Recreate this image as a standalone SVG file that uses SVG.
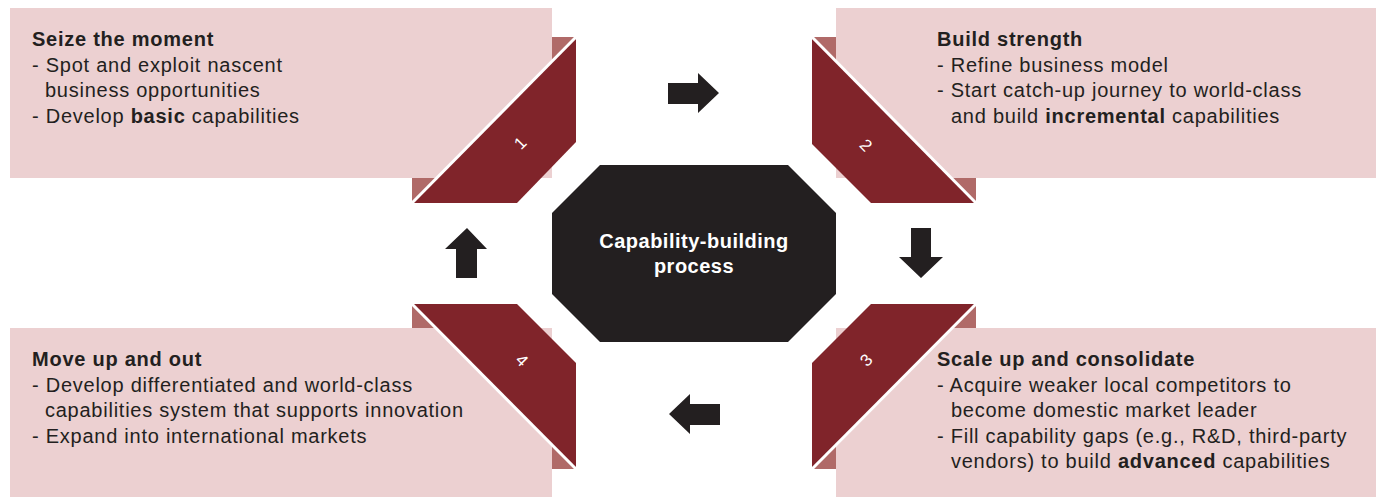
<svg xmlns="http://www.w3.org/2000/svg" width="1379" height="497" viewBox="0 0 1379 497">
<style>
.pink{fill:#ecd0d1}
.light{fill:#b06a68}
.dark{fill:#80242a}
.sep{stroke:#ffffff;stroke-width:3;fill:none}
.t{font-family:"Liberation Sans",Arial,sans-serif;font-size:20px;fill:#231f20;letter-spacing:0.75px}
.b{font-weight:bold}
.num{font-family:"Liberation Sans",Arial,sans-serif;font-size:17px;fill:#ffffff;text-anchor:middle}
.arrow{fill:#231f20}
</style>
<rect width="1379" height="497" fill="#ffffff"/>

<g id="node1">
<polygon class="light" points="412,37 576,37 412,203"/>
<rect class="pink" x="10" y="8" width="542" height="170"/>
<polygon class="dark" points="576,37 576,142 517,203 412,203"/>
<line class="sep" x1="411" y1="204" x2="577" y2="36"/>
<text class="num" transform="translate(520,143) rotate(-45)" y="6">1</text>
<text class="t b" x="32" y="46">Seize the moment</text>
<text class="t" x="32" y="72">- Spot and exploit nascent</text>
<text class="t" x="45" y="97">business opportunities</text>
<text class="t" x="32" y="123">- Develop <tspan class="b">basic</tspan> capabilities</text>
</g>

<g id="node2">
<polygon class="light" points="812,37 976,37 976,203"/>
<rect class="pink" x="836" y="8" width="540" height="170"/>
<polygon class="dark" points="812,37 976,203 871,203 812,144"/>
<line class="sep" x1="811" y1="36" x2="977" y2="204"/>
<text class="num" transform="translate(866,145) rotate(45)" y="6">2</text>
<text class="t b" x="937" y="46">Build strength</text>
<text class="t" x="937" y="72">- Refine business model</text>
<text class="t" x="937" y="97">- Start catch-up journey to world-class</text>
<text class="t" x="951" y="123">and build <tspan class="b">incremental</tspan> capabilities</text>
</g>

<g id="node3">
<polygon class="light" points="976,304 976,469 812,469"/>
<rect class="pink" x="836" y="328" width="540" height="169"/>
<polygon class="dark" points="871,304 976,304 812,469 812,363"/>
<line class="sep" x1="977" y1="303" x2="811" y2="470"/>
<text class="num" transform="translate(866,360) rotate(-45)" y="6">3</text>
<text class="t b" x="937" y="366">Scale up and consolidate</text>
<text class="t" x="937" y="392">- Acquire weaker local competitors to</text>
<text class="t" x="951" y="417">become domestic market leader</text>
<text class="t" x="937" y="443">- Fill capability gaps (e.g., R&amp;D, third-party</text>
<text class="t" x="951" y="468">vendors) to build <tspan class="b">advanced</tspan> capabilities</text>
</g>

<g id="node4">
<polygon class="light" points="412,304 412,469 576,469"/>
<rect class="pink" x="10" y="328" width="542" height="169"/>
<polygon class="dark" points="412,304 517,304 576,363 576,469"/>
<line class="sep" x1="411" y1="303" x2="577" y2="470"/>
<text class="num" transform="translate(522,360) rotate(45)" y="6">4</text>
<text class="t b" x="32" y="366">Move up and out</text>
<text class="t" x="32" y="392">- Develop differentiated and world-class</text>
<text class="t" x="45" y="417">capabilities system that supports innovation</text>
<text class="t" x="32" y="443">- Expand into international markets</text>
</g>

<g id="center">
<polygon fill="#231f20" points="600,165 788,165 836,213 836,294 788,342 600,342 552,294 552,213"/>
<text class="t b" x="694" y="248" text-anchor="middle" style="fill:#ffffff;letter-spacing:0.5px">Capability-building</text>
<text class="t b" x="694" y="273" text-anchor="middle" style="fill:#ffffff;letter-spacing:0.5px">process</text>
</g>

<g id="connectors">
<polygon class="arrow" points="668,83 698,83 698,73 719,93 698,113 698,104 668,104"/>
<polygon class="arrow" points="911,228 931,228 931,257 943,257 921,278 899,257 911,257"/>
<polygon class="arrow" points="720,404 690,404 690,394 669,414 690,434 690,425 720,425"/>
<polygon class="arrow" points="477,278 456,278 456,249 445,249 467,228 487,249 477,249"/>
</g>
</svg>
